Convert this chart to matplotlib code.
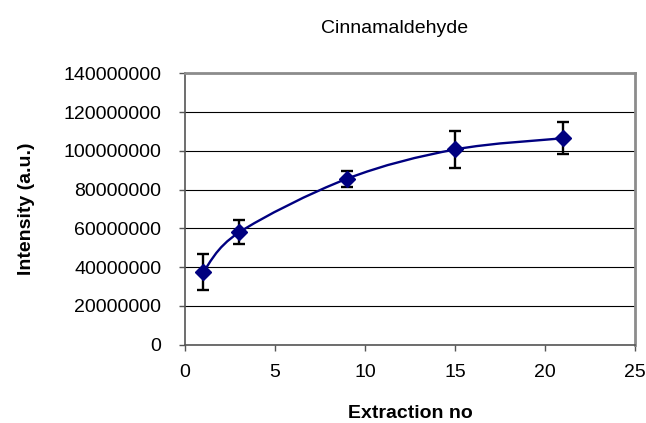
import matplotlib
matplotlib.use("Agg")
import matplotlib.pyplot as plt
from matplotlib.path import Path
from matplotlib.patches import PathPatch
import numpy as np

plt.rcParams['font.family'] = ['Liberation Sans', 'DejaVu Sans']

extraction = [1, 3, 9, 15, 21]
intensity = [37.4e6, 57.9e6, 85.6e6, 100.7e6, 106.5e6]
err = [9.2e6, 6.2e6, 4.1e6, 9.5e6, 8.3e6]
yticks = [0, 20000000, 40000000, 60000000, 80000000, 100000000, 120000000, 140000000]
xticks = [0, 5, 10, 15, 20, 25]

W, H = 646, 423
fig = plt.figure(figsize=(W / 100, H / 100), dpi=100)
L, R, T, B = 185, 635, 73.3, 344.7
ax = fig.add_axes([L / W, 1 - B / H, (R - L) / W, (B - T) / H])

navy = '#000080'

# smoothed line (Excel-like Catmull-Rom bezier through the data points)
pts = np.column_stack([extraction, intensity]).astype(float)
verts = [tuple(pts[0])]
codes = [Path.MOVETO]
n = len(pts)
for i in range(n - 1):
    p0 = pts[i - 1] if i > 0 else pts[i]
    p1 = pts[i]
    p2 = pts[i + 1]
    p3 = pts[i + 2] if i + 2 < n else pts[i + 1]
    c1 = p1 + (p2 - p0) / 6.0
    c2 = p2 - (p3 - p1) / 6.0
    verts += [tuple(c1), tuple(c2), tuple(p2)]
    codes += [Path.CURVE4] * 3
ax.add_patch(PathPatch(Path(verts, codes), facecolor='none', edgecolor=navy,
                       lw=1.7, zorder=3))

ax.errorbar(extraction, intensity, yerr=err, fmt='none', ecolor='black',
            elinewidth=1.7, capsize=4, capthick=1.7, zorder=4)
ax.plot(extraction, intensity, linestyle='none', marker='D', markersize=8.5,
        color=navy, zorder=5)

ax.set_xlim(0, 25)
ax.set_ylim(0, 140000000)
ax.set_xticks(xticks)
ax.set_yticks(yticks)
ax.set_yticklabels([str(v) for v in yticks])
ax.grid(axis='y', color='black', linewidth=0.8)
ax.set_axisbelow(True)

for side in ['top', 'right']:
    ax.spines[side].set_color('#8c8c8c')
    ax.spines[side].set_linewidth(2)
for side in ['left', 'bottom']:
    ax.spines[side].set_color('#555555')
    ax.spines[side].set_linewidth(1.2)

ax.tick_params(axis='both', direction='out', length=4, width=1, color='#555555',
               labelsize=14)
ax.tick_params(axis='y', pad=13)
ax.tick_params(axis='x', pad=10)

ax.set_xlabel('Extraction no', fontsize=14, fontweight='bold')
ax.set_ylabel('Intensity (a.u.)', fontsize=14, fontweight='bold')
ax.xaxis.set_label_coords(0.5, (B - 405) / (B - T))
ax.yaxis.set_label_coords((35 - L) / (R - L), 0.5)
fig.text(395 / W, 1 - 33.3 / H, 'Cinnamaldehyde', ha='center', va='baseline',
         fontsize=14)

fig.savefig('out.png', dpi=100)
